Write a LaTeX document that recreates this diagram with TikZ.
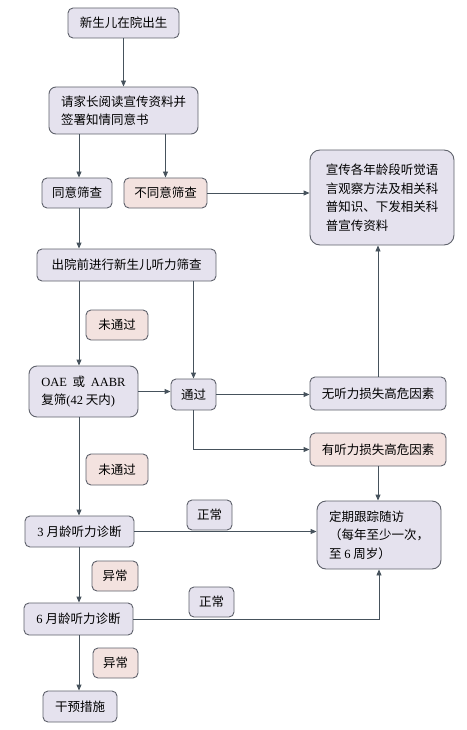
\documentclass[tikz,border=0pt]{standalone}
\usepackage{fontspec}
\setmainfont{Noto Sans CJK SC}
\newfontfamily\latn{Liberation Serif}
\usetikzlibrary{arrows.meta,calc}
\definecolor{BoxBlue}{HTML}{E5E2EE}
\definecolor{BoxPink}{HTML}{F3E2DF}
\definecolor{BoxEdge}{HTML}{5E616B}
\definecolor{LinkGray}{HTML}{46525C}

\begin{document}
\begin{tikzpicture}[x=1pt,y=-1pt,
    box/.style={draw=BoxEdge,line width=0.9pt,fill=BoxBlue,rounded corners=5pt,inner sep=0pt,align=left,font=\fontsize{12.5}{18.5}\selectfont},
    pinkbox/.style={box,fill=BoxPink},
    link/.style={draw=LinkGray,line width=0.9pt,-{Triangle[length=6pt,width=5pt]}}]
    \useasboundingbox (0,0) rectangle (466,730);
    \coordinate (lc) at (79,0);

    \node[box,minimum width=111,minimum height=30] (birth) at (123.5,23) {新生儿在院出生};
    \node[box,minimum width=149,minimum height=47,rounded corners=7pt] (consent) at (123.5,110.5) {请家长阅读宣传资料并\\签署知情同意书};
    \node[box,minimum width=70,minimum height=30] (agree) at (77,193) {同意筛查};
    \node[pinkbox,minimum width=83,minimum height=30] (refuse) at (165.5,193) {不同意筛查};
    \node[box,minimum width=144,minimum height=95,rounded corners=10pt] (edu) at (382,197.5) {宣传各年龄段听觉语\\言观察方法及相关科\\普知识、下发相关科\\普宣传资料};
    \node[box,minimum width=179,minimum height=32] (screen) at (126.5,265) {出院前进行新生儿听力筛查};
    \node[pinkbox,minimum width=62,minimum height=30] (failA) at (117,325) {未通过};
    \node[box,minimum width=109,minimum height=51,rounded corners=8pt] (recheck) at (83.5,391.5) {{\latn OAE}\ \ 或\ \ {\latn AABR}\\复筛{\latn (42} 天内{\latn )}};
    \node[box,minimum width=45,minimum height=31] (pass) at (193.5,394.5) {通过};
    \node[box,minimum width=136,minimum height=33] (norisk) at (378,393.5) {无听力损失高危因素};
    \node[pinkbox,minimum width=136,minimum height=33] (risk) at (378,449.5) {有听力损失高危因素};
    \node[pinkbox,minimum width=62,minimum height=31] (failB) at (117,469.5) {未通过};
    \node[box,minimum width=109,minimum height=31] (mthree) at (79.5,531.5) {{\latn 3} 月龄听力诊断};
    \node[box,minimum width=45,minimum height=30] (okA) at (209.5,515) {正常};
    \node[box,minimum width=124,minimum height=68,rounded corners=9pt] (follow) at (379,535) {定期跟踪随访\\（每年至少一次，\\至 {\latn 6} 周岁）};
    \node[pinkbox,minimum width=46,minimum height=30] (abnA) at (115,576) {异常};
    \node[box,minimum width=109,minimum height=32] (msix) at (78.5,619) {{\latn 6} 月龄听力诊断};
    \node[box,minimum width=45,minimum height=30] (okB) at (211.5,602) {正常};
    \node[pinkbox,minimum width=45,minimum height=30] (abnB) at (115.5,663) {异常};
    \node[box,minimum width=74,minimum height=31] (act) at (80,706.5) {干预措施};

    \draw[link] (birth) -- (consent);
    \draw[link] (consent.south -| lc) -- (agree.north -| lc);
    \draw[link] (consent.south -| refuse) -- (refuse);
    \draw[link] (refuse) -- (refuse -| edu.west);
    \draw[link] (agree.south -| lc) -- (screen.north -| lc);
    \draw[link] (screen.south -| lc) -- (recheck.north -| lc);
    \draw[link] (screen.south -| pass) -- (pass);
    \draw[link] (recheck) -- (recheck -| pass.west);
    \draw[link] (pass) -- (pass -| norisk.west);
    \draw[link] (norisk) -- (norisk |- edu.south);
    \draw[link] (pass.south) |- (risk.west);
    \draw[link] (risk) -- (risk |- follow.north);
    \draw[link] (recheck.south -| lc) -- (mthree.north -| lc);
    \draw[link] (mthree) -- (mthree -| follow.west);
    \draw[link] (mthree.south -| lc) -- (msix.north -| lc);
    \draw[link] (msix.east) -| (follow.south);
    \draw[link] (msix.south -| lc) -- (act.north -| lc);
\end{tikzpicture}
\end{document}
